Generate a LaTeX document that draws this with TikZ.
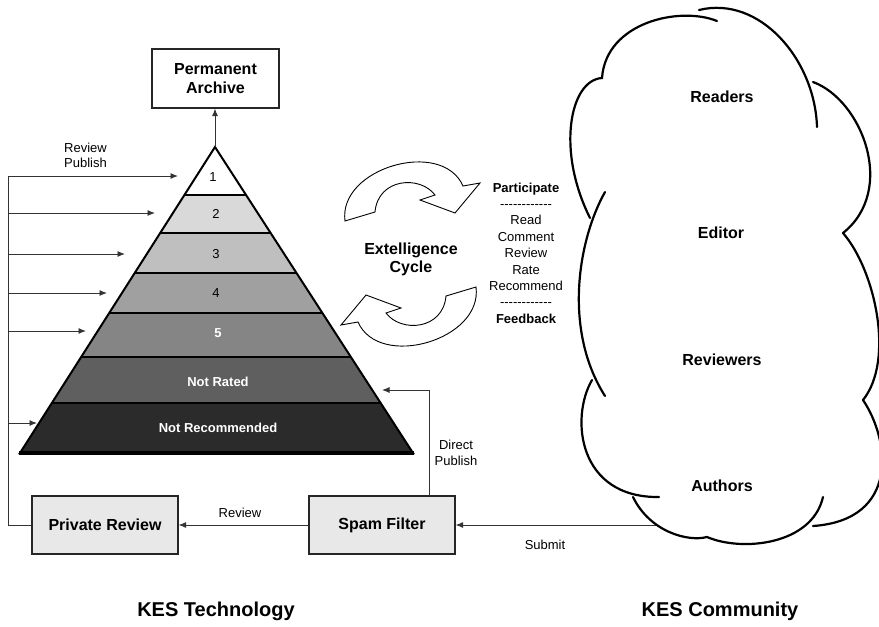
\documentclass[tikz,border=0pt]{standalone}
\usepackage{fontspec}
\setmainfont{Liberation Sans}
\usetikzlibrary{arrows.meta,calc}
\definecolor{lay2}{HTML}{D9D9D9}
\definecolor{lay3}{HTML}{BFBFBF}
\definecolor{lay4}{HTML}{A0A0A0}
\definecolor{lay5}{HTML}{858585}
\definecolor{lay6}{HTML}{5F5F5F}
\definecolor{lay7}{HTML}{2B2B2B}
\definecolor{boxfill}{HTML}{E8E8E8}
\begin{document}
\begin{tikzpicture}[x=1pt,y=-1pt,
  conn/.style={draw=black!80, line width=0.9pt},
  arr/.style={conn,-{Latex[length=7.5pt,width=6pt]}},
  box/.style={draw=black!85, line width=1.2pt, fill=boxfill, minimum width=146pt, minimum height=58pt, font=\fontsize{16}{19}\selectfont\bfseries, inner sep=0pt},
  lbl/.style={font=\fontsize{13}{15}\selectfont, inner sep=0pt},
  laytext/.style={font=\fontsize{13}{15}\selectfont, inner sep=0pt},
  laybold/.style={font=\fontsize{13}{15}\selectfont\bfseries, text=white, inner sep=0pt},
  cloudtext/.style={font=\fontsize{16}{19}\selectfont\bfseries, inner sep=0pt},
  bigtext/.style={font=\fontsize{20}{24}\selectfont\bfseries, inner sep=0pt},
  cloudline/.style={draw=black, line width=2.2pt, line cap=round},
  cyclearrow/.style={draw=black, fill=white, line width=0.9pt, line join=miter}
]
\useasboundingbox (0,0) rectangle (879,627);
\fill[white] (0,0) rectangle (879,627);

% ---------- pyramid ----------
\coordinate (ap) at (215,147);
\coordinate (bl) at (20,453);
\coordinate (br) at (413,453);
\foreach \n/\t in {a/0.1569, b/0.2810, c/0.4118, d/0.5425, e/0.6863, f/0.8366} {
  \coordinate (L\n) at ($(ap)!\t!(bl)$);
  \coordinate (R\n) at ($(ap)!\t!(br)$);
}
\fill[white] (ap) -- (La) -- (Ra) -- cycle;
\fill[lay2] (La) -- (Lb) -- (Rb) -- (Ra) -- cycle;
\fill[lay3] (Lb) -- (Lc) -- (Rc) -- (Rb) -- cycle;
\fill[lay4] (Lc) -- (Ld) -- (Rd) -- (Rc) -- cycle;
\fill[lay5] (Ld) -- (Le) -- (Re) -- (Rd) -- cycle;
\fill[lay6] (Le) -- (Lf) -- (Rf) -- (Re) -- cycle;
\fill[lay7] (Lf) -- (bl) -- (br) -- (Rf) -- cycle;
\foreach \n in {a,b,c,d,e,f} { \draw[line width=2pt] (L\n) -- (R\n); }
\draw[line width=2pt, line join=miter] (ap) -- (bl) -- (br) -- cycle;
\draw[line width=4.5pt] ($(bl)+(-1,0)$) -- ($(br)+(1,0)$);

\node[laytext] (t1) at (213,177) {1};
\node[laytext] (t2) at (216,214) {2};
\node[laytext] (t3) at (216,254) {3};
\node[laytext] (t4) at (216,293) {4};
\node[laybold] (t5) at (218,333) {5};
\node[laybold] (t6) at (218,382) {Not Rated};
\node[laybold] (t7) at (218,428) {Not Recommended};

% ---------- permanent archive ----------
\node[draw=black!85, line width=1.2pt, fill=white, minimum width=127pt, minimum height=59pt, inner sep=0pt, align=center,
      font=\fontsize{16}{19}\selectfont\bfseries] (pa) at (215.5,78.5) {Permanent\\Archive};
\draw[arr] (ap) -- (ap |- pa.south);

% ---------- bottom boxes ----------
\node[box] (pr) at (105,525) {Private Review};
\node[box] (sf) at (382,525) {Spam Filter};

% left feedback line
\coordinate (lt) at (8,176);
\draw[conn] (pr.west) -- (pr.west -| lt) -- (lt);
\foreach \y/\xe in {176/178, 213/155, 254/125, 293/107, 331/86, 423/37} {
  \coordinate (s\y) at (8,\y);
  \coordinate (e\y) at (\xe,\y);
  \draw[arr] (s\y) -- (e\y);
}
\node[lbl, align=left, anchor=west] (rpl) at (64,155.5) {Review\\Publish};

% review
\draw[arr] (sf.west) -- (pr.east);
\node[lbl] (revl) at (240,513) {Review};

% direct publish
\coordinate (dpb) at (429,496);
\coordinate (dpt) at (382,390);
\draw[arr] (dpb) |- (dpt);
\node[lbl, align=center, font=\fontsize{13}{16}\selectfont] (dpl) at (456,453) {Direct\\Publish};

% submit
\coordinate (sub) at (657,525);
\draw[arr] (sub) -- (sf.east);
\node[lbl] (subl) at (545,545) {Submit};

% ---------- extelligence cycle ----------
\def\cyclepath{(345,221) .. controls (338,168) and (442,138) .. (463,186) -- (480,183) -- (455,213) -- (420,200) -- (435,195) .. controls (420,175) and (378,178) .. (375,212) -- cycle}
\draw[cyclearrow] \cyclepath;
\begin{scope}[rotate around={180:(410.5,254)}]
\draw[cyclearrow] \cyclepath;
\end{scope}
\node[font=\fontsize{16}{18}\selectfont\bfseries, align=center, inner sep=0pt] (ec) at (411,259) {Extelligence\\Cycle};

\node[font=\fontsize{13}{16.4}\selectfont, align=center, inner sep=0pt] (part) at (526,253)
 {\textbf{Participate}\\-{}-{}-{}-{}-{}-{}-{}-{}-{}-{}-{}-\\Read\\Comment\\Review\\Rate\\Recommend\\-{}-{}-{}-{}-{}-{}-{}-{}-{}-{}-{}-\\\textbf{Feedback}};

% ---------- cloud ----------
\begin{scope}
\clip (0,0) rectangle (879,627);
\draw[cloudline] (717,21) .. controls (680,6) and (606,22) .. (602,78)
                 .. controls (570,80) and (556,150) .. (590,218);
\draw[cloudline] (605,192) .. controls (578,240) and (563,330) .. (605,396);
\draw[cloudline] (592,380) .. controls (570,418) and (578,498) .. (659,497);
\draw[cloudline] (633,497) .. controls (650,532) and (688,542) .. (707,537)
                 .. controls (742,552) and (812,545) .. (823,497);
\draw[cloudline] (863,400) .. controls (890,440) and (900,520) .. (813,526);
\draw[cloudline] (843,233) .. controls (875,270) and (895,360) .. (863,400);
\draw[cloudline] (813,82) .. controls (862,100) and (897,190) .. (843,233);
\draw[cloudline] (699,10) .. controls (760,-5) and (815,60) .. (817,127);
\end{scope}
\node[cloudtext] (rd) at (722,97) {Readers};
\node[cloudtext] (ed) at (721,233) {Editor};
\node[cloudtext] (rv) at (722,360) {Reviewers};
\node[cloudtext] (au) at (722,486) {Authors};

% ---------- captions ----------
\node[bigtext] (kt) at (216,611) {KES Technology};
\node[bigtext] (kc) at (720,611) {KES Community};
\end{tikzpicture}
\end{document}
